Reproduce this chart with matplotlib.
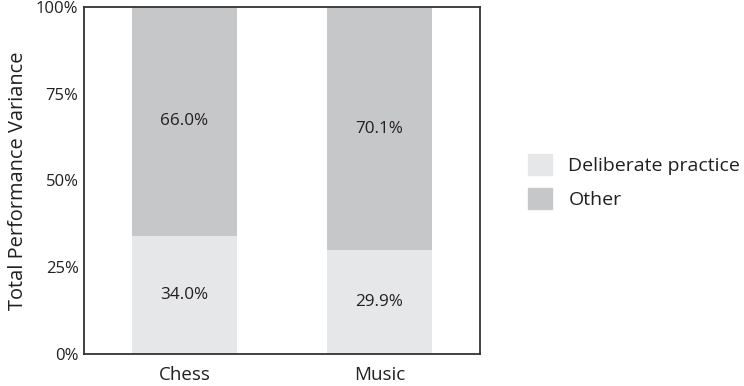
import matplotlib

matplotlib.use("Agg")
import matplotlib.pyplot as plt
from matplotlib.patches import Patch
import numpy as np

categories = ["Chess", "Music"]
deliberate = [34.0, 29.9]
other = [66.0, 70.1]
yticks = [0, 25, 50, 75, 100]

LIGHT = "#e6e7e8"
DARK = "#c6c7c9"
TEXT = "#231f20"

plt.rcParams["font.family"] = ["Open Sans", "DejaVu Sans"]
plt.rcParams["text.color"] = TEXT

fig = plt.figure(figsize=(7.44, 3.86), dpi=100)
ax = fig.add_axes([0.113, 0.083, 0.532, 0.899])

x = np.arange(len(categories))
ax.bar(x, deliberate, width=0.54, color=LIGHT, label="Deliberate practice")
ax.bar(x, other, width=0.54, bottom=deliberate, color=DARK, label="Other")

# value labels centred in each segment
for xi, d, o in zip(x, deliberate, other):
    ax.text(xi, d / 2, f"{d:.1f}%", ha="center", va="center", fontsize=12.3, color=TEXT)
    ax.text(xi, d + o / 2, f"{o:.1f}%", ha="center", va="center", fontsize=12.3, color=TEXT)

ax.set_xlim(-0.515, 1.515)
ax.set_ylim(0, 100)
ax.set_xticks(x)
ax.set_xticklabels(categories, fontsize=13.5, color=TEXT)
ax.set_yticks(yticks)
ax.set_yticklabels([f"{t}%" for t in yticks], fontsize=12, color=TEXT)
ax.tick_params(length=0, pad=4)
ax.tick_params(axis="x", pad=9)
ax.set_ylabel("Total Performance Variance", fontsize=14.4, color=TEXT, labelpad=6)
for s in ax.spines.values():
    s.set_color("#333333")
    s.set_linewidth(1.3)

handles = [Patch(color=LIGHT), Patch(color=DARK)]
fig.legend(handles, ["Deliberate practice", "Other"], loc="center left",
           bbox_to_anchor=(0.686, 0.53), frameon=False, fontsize=14,
           handlelength=1.23, handleheight=1.3, labelspacing=0.65, handletextpad=0.85)

fig.savefig("out.png", dpi=100)
